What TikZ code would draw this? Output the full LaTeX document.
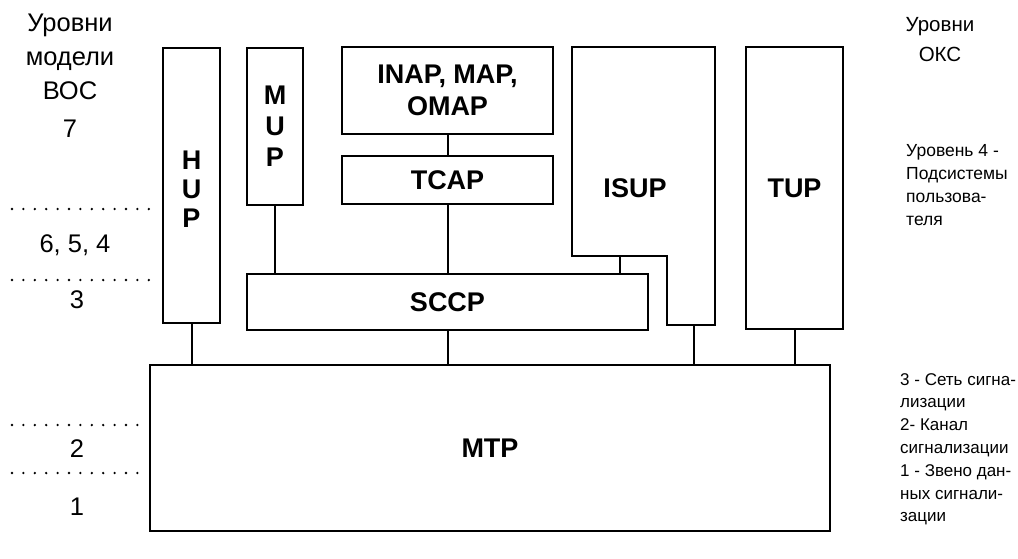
\documentclass[tikz,border=0pt]{standalone}
\usepackage{fontspec}
\setmainfont{Liberation Sans}
\begin{document}
\begin{tikzpicture}[x=1pt,y=-1pt,
  box/.style={draw, line width=2pt, inner sep=0pt, align=center,
    font=\bfseries\fontsize{27}{32}\selectfont},
  btxt/.style={inner sep=0pt, align=center, font=\bfseries\fontsize{27}{29}\selectfont},
  wire/.style={line width=2pt},
  lvl/.style={line width=2.6pt, line cap=round, dash pattern=on 0pt off 11.4pt},
  lbl/.style={inner sep=0pt, align=center, font=\fontsize{25.5}{34}\selectfont},
  note/.style={inner sep=0pt, align=left, anchor=north west, font=\fontsize{17}{22.8}\selectfont}]
\useasboundingbox (0,0) rectangle (1018,558);

% boxes
\node[box, minimum width=57pt, minimum height=275pt] (HUP) at (191.5,185.5) {};
\node[btxt] (HUPt) at ([yshift=-4pt]HUP.center) {H\\U\\P};
\node[box, minimum width=56pt, minimum height=157pt] (MUP) at (275,126.5) {};
\node[btxt, font=\bfseries\fontsize{27}{31}\selectfont] (MUPt) at (MUP.center) {M\\U\\P};
\node[box, minimum width=211pt, minimum height=87pt] (INAP) at (447.5,90.5) {INAP, MAP,\\OMAP};
\node[box, minimum width=211pt, minimum height=48pt] (TCAP) at (447.5,180) {TCAP};
\node[box, minimum width=401pt, minimum height=56pt] (SCCP) at (447.5,302) {SCCP};
\node[box, minimum width=97pt, minimum height=282pt] (TUP) at (794.5,188) {TUP};
\node[box, minimum width=680pt, minimum height=166pt] (MTP) at (490,448) {MTP};
\draw[wire] (572,47) -- (715,47) -- (715,325) -- (667,325) -- (667,256) -- (572,256) -- cycle;
\node[btxt] (ISUP) at (635,188) {ISUP};
\coordinate (isupA) at (620,256);
\coordinate (isupB) at (694,325);

% connectors
\draw[wire] (HUP.south) -- (HUP.south |- MTP.north);
\draw[wire] (MUP.south) -- (MUP.south |- SCCP.north);
\draw[wire] (INAP.south) -- (TCAP.north);
\draw[wire] (TCAP.south) -- (SCCP.north);
\draw[wire] (SCCP.south) -- (SCCP.south |- MTP.north);
\draw[wire] (isupA) -- (isupA |- SCCP.north);
\draw[wire] (isupB) -- (isupB |- MTP.north);
\draw[wire] (TUP.south) -- (TUP.south |- MTP.north);

% level separators
\draw[lvl] (12,209) -- (157,209);
\draw[lvl] (12,280) -- (157,280);
\draw[lvl] (12,425) -- (148,425);
\draw[lvl] (12,473) -- (148,473);

% left labels
\node[lbl, anchor=north] (osi) at (70,14) {Уровни\\модели\\ВОС};
\node[lbl, anchor=base] (l7) at (70,137) {7};
\node[lbl, anchor=base] (l654) at (75,252) {6, 5, 4};
\node[lbl, anchor=base] (l3) at (77,308) {3};
\node[lbl, anchor=base] (l2) at (77,457) {2};
\node[lbl, anchor=base] (l1) at (77,515) {1};

% right labels
\node[lbl, anchor=north, font=\fontsize{20.5}{30}\selectfont] (oks) at (940,17.5) {Уровни\\ОКС};
\node[note, font=\fontsize{17.5}{23}\selectfont] (r4) at (906,144.5) {Уровень 4 -\\Подсистемы\\пользова-\\теля};
\node[note] (r321) at (900,373) {3 - Сеть сигна-\\лизации\\2- Канал\\сигнализации\\1 - Звено дан-\\ных сигнали-\\зации};
\end{tikzpicture}
\end{document}
